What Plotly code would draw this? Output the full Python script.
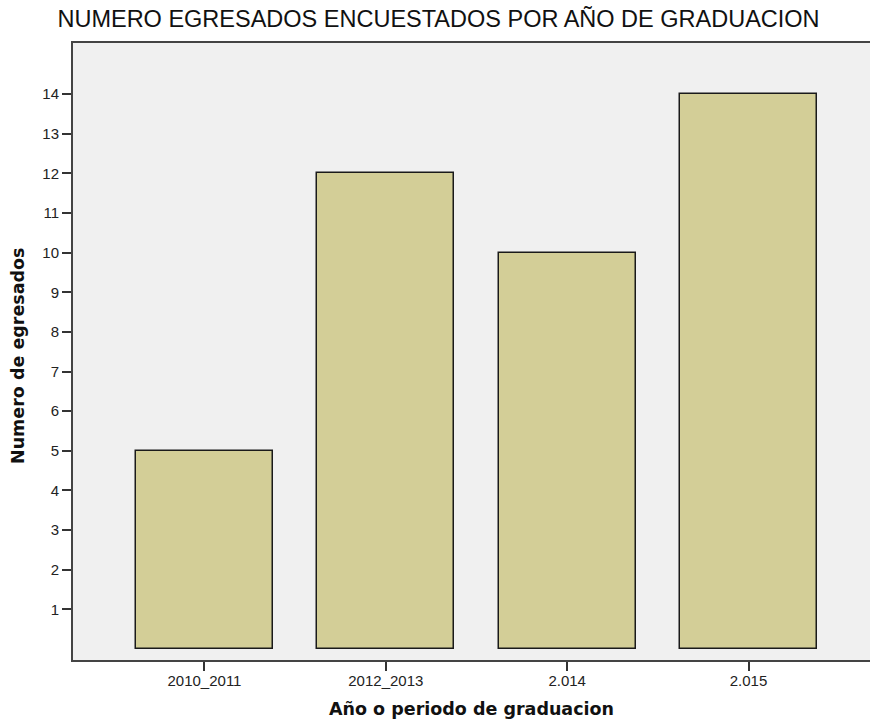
import plotly.graph_objects as go

categories = ["2010_2011", "2012_2013", "2.014", "2.015"]
values = [5, 12, 10, 14]
y_ticks = list(range(1, 15))

W, H = 870, 725
ML, MR, MT, MB = 73, 0, 43, 65
PW, PH = W - ML - MR, H - MT - MB

fig = go.Figure()
fig.add_trace(go.Bar(
    x=list(range(len(categories))), y=values,
    width=0.756,
    marker=dict(color="#D3CE97", line=dict(color="#1a1a1a", width=1.5)),
))

title_font = dict(family="DejaVu Sans", size=17.5, color="#111")
fig.update_layout(
    width=W, height=H,
    margin=dict(l=ML, r=MR, t=MT, b=MB),
    paper_bgcolor="white", plot_bgcolor="#F0F0F0",
    font=dict(family="Liberation Sans, Arial", color="#222"),
    showlegend=False,
    title=dict(text="NUMERO EGRESADOS ENCUESTADOS POR AÑO DE GRADUACION",
               x=438.5 / W, xanchor="center", y=1 - 18.5 / H, yanchor="middle",
               font=dict(size=23.5, color="#111")),
    bargap=0,
    annotations=[
        dict(text="<b>Año o periodo de graduacion</b>", xref="paper", yref="paper",
             x=0.5, y=-(709 - (H - MB)) / PH, xanchor="center", yanchor="middle",
             showarrow=False, font=title_font),
        dict(text="<b>Numero de egresados</b>", xref="paper", yref="paper",
             x=(18 - ML) / PW, y=((H - MB) - 356) / PH, xanchor="center", yanchor="middle",
             textangle=-90, showarrow=False, font=title_font),
    ],
)
fig.update_xaxes(
    range=[-0.725, 3.67], tickvals=list(range(len(categories))), ticktext=categories,
    showgrid=False, zeroline=False,
    showline=True, linecolor="#444", linewidth=2, mirror=True,
    ticks="outside", ticklen=9, tickcolor="#333", tickwidth=1.5,
    tickfont=dict(size=15), ticklabelstandoff=-3,
)
fig.update_yaxes(
    range=[-0.28, 15.29], tickvals=y_ticks,
    showgrid=False, zeroline=False,
    showline=True, linecolor="#444", linewidth=2,
    ticks="outside", ticklen=9, tickcolor="#333", tickwidth=1.5,
    tickfont=dict(size=15), ticklabelstandoff=0,
)
fig.write_html("out.html", config={"displayModeBar": False},
               post_script="document.body.style.margin='0';document.body.style.overflow='hidden';")
